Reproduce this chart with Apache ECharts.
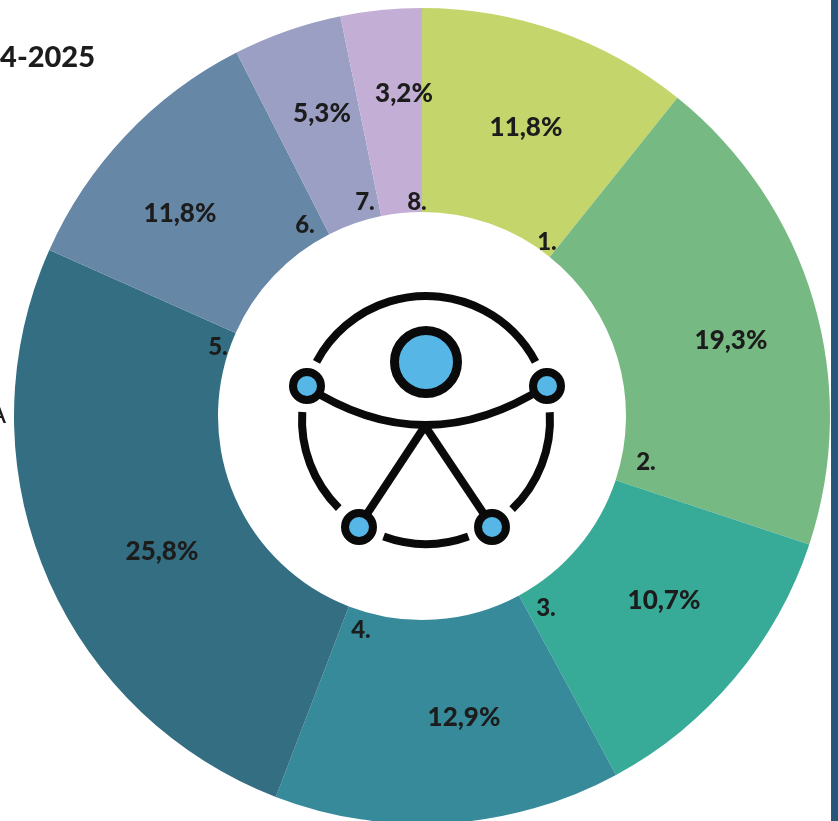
<!DOCTYPE html>
<html>
<head>
<meta charset="utf-8">
<title>Donut chart</title>
<script src="https://cdn.jsdelivr.net/npm/echarts@6/dist/echarts.min.js"></script>
<style>
  html, body { margin: 0; padding: 0; background: #fff; overflow: hidden; }
  #chart { width: 838px; height: 821px; }
</style>
</head>
<body>
<div id="chart"></div>
<script>
const categories = ['1.', '2.', '3.', '4.', '5.', '6.', '7.', '8.']
// printed labels
const percentLabels = ['11,8%', '19,3%', '10,7%', '12,9%', '25,8%', '11,8%', '5,3%', '3,2%']
// slice sizes as measured on the picture, they differ a little from the printed labels
const sliceShares = [10.75, 19.3, 12.0, 13.7, 25.8, 10.8, 4.3, 3.2]
const sliceColors = ['#c4d66b', '#76b982', '#37ab98', '#368a9a', '#346e82', '#6787a6', '#9b9fc4', '#c3aed6']

const CENTER = [422, 416]
const FONT = 'Lato, "Open Sans", sans-serif'
const TEXT_COLOR = '#1c1c1c'
const ICON_BLUE = '#56b6e6'

// label anchors, pixels
const percentAnchors = [[526, 128], [731, 341], [664, 601], [464, 718], [162, 552], [180, 214], [322, 114], [404, 94]]
const numberAnchors = [[547, 242], [646, 462], [546, 608], [361, 630], [218, 347], [305, 225], [365, 202], [417, 202]]

const rad = (deg) => (deg * Math.PI) / 180

function iconArc(cx, cy, r, from, to) {
  return {
    type: 'arc',
    shape: { cx, cy, r, startAngle: rad(from), endAngle: rad(to), clockwise: true },
    style: { stroke: '#0a0a0a', lineWidth: 8, fill: null, lineCap: 'butt' },
    z: 10,
  }
}

function iconLine(x1, y1, x2, y2) {
  return {
    type: 'line',
    shape: { x1, y1, x2, y2 },
    style: { stroke: '#0a0a0a', lineWidth: 8 },
    z: 10,
  }
}

function iconDot(cx, cy, r, lineWidth) {
  return {
    type: 'circle',
    shape: { cx, cy, r },
    style: { fill: ICON_BLUE, stroke: '#0a0a0a', lineWidth },
    z: 11,
  }
}

const graphicElements = [
  { type: 'rect', shape: { x: 831, y: 0, width: 7, height: 821 }, style: { fill: '#27567b' }, z: 12 },
  {
    type: 'text', x: 95, y: 58,
    style: { text: '4-2025', fill: TEXT_COLOR, font: `900 29px ${FONT}`, align: 'right', verticalAlign: 'middle' },
    z: 12,
  },
  {
    type: 'text', x: 6, y: 415,
    style: { text: 'A', fill: TEXT_COLOR, font: `26px ${FONT}`, align: 'right', verticalAlign: 'middle' },
    z: 12,
  },
  iconArc(426, 420, 124, 208, 332),
  iconArc(426, 420, 124, -3.6, 46),
  iconArc(426, 420, 124, 70, 110),
  iconArc(426, 420, 124, 134.7, 183.7),
  {
    type: 'bezierCurve',
    shape: { x1: 306, y1: 386, x2: 546, y2: 386, cpx1: 425, cpy1: 464 },
    style: { stroke: '#0a0a0a', lineWidth: 8, fill: null },
    z: 10,
  },
  iconLine(425, 426, 359, 526),
  iconLine(425, 426, 492, 526),
  iconDot(426, 362, 31.5, 9),
  iconDot(307, 386, 14, 8),
  iconDot(547, 386, 14, 8),
  iconDot(359, 527, 14, 8),
  iconDot(492, 527, 14, 8),
]

const chart = echarts.init(document.getElementById('chart'), null, { renderer: 'canvas' })

const labelStyle = {
  show: true,
  position: 'inside',
  color: TEXT_COLOR,
  fontFamily: FONT,
  fontWeight: 900,
  fontSize: 26,
  align: 'center',
  verticalAlign: 'middle',
}

chart.setOption({
  animation: false,
  backgroundColor: '#fff',
  graphic: { elements: graphicElements },
  series: [
    {
      type: 'pie',
      center: CENTER,
      radius: [204, 408],
      startAngle: 90,
      clockwise: true,
      silent: true,
      data: categories.map((name, i) => ({
        name,
        value: sliceShares[i],
        itemStyle: { color: sliceColors[i] },
      })),
      label: { ...labelStyle, formatter: (p) => percentLabels[p.dataIndex] },
      labelLine: { show: false },
      labelLayout: (p) => ({ x: percentAnchors[p.dataIndex][0], y: percentAnchors[p.dataIndex][1] }),
    },
    {
      type: 'pie',
      center: CENTER,
      radius: [204, 408],
      startAngle: 90,
      clockwise: true,
      silent: true,
      itemStyle: { color: 'rgba(0,0,0,0)' },
      data: categories.map((name, i) => ({ name, value: sliceShares[i] })),
      label: { ...labelStyle, formatter: '{b}', fontSize: 24 },
      labelLine: { show: false },
      labelLayout: (p) => ({ x: numberAnchors[p.dataIndex][0], y: numberAnchors[p.dataIndex][1] }),
    },
  ],
})
</script>
</body>
</html>
